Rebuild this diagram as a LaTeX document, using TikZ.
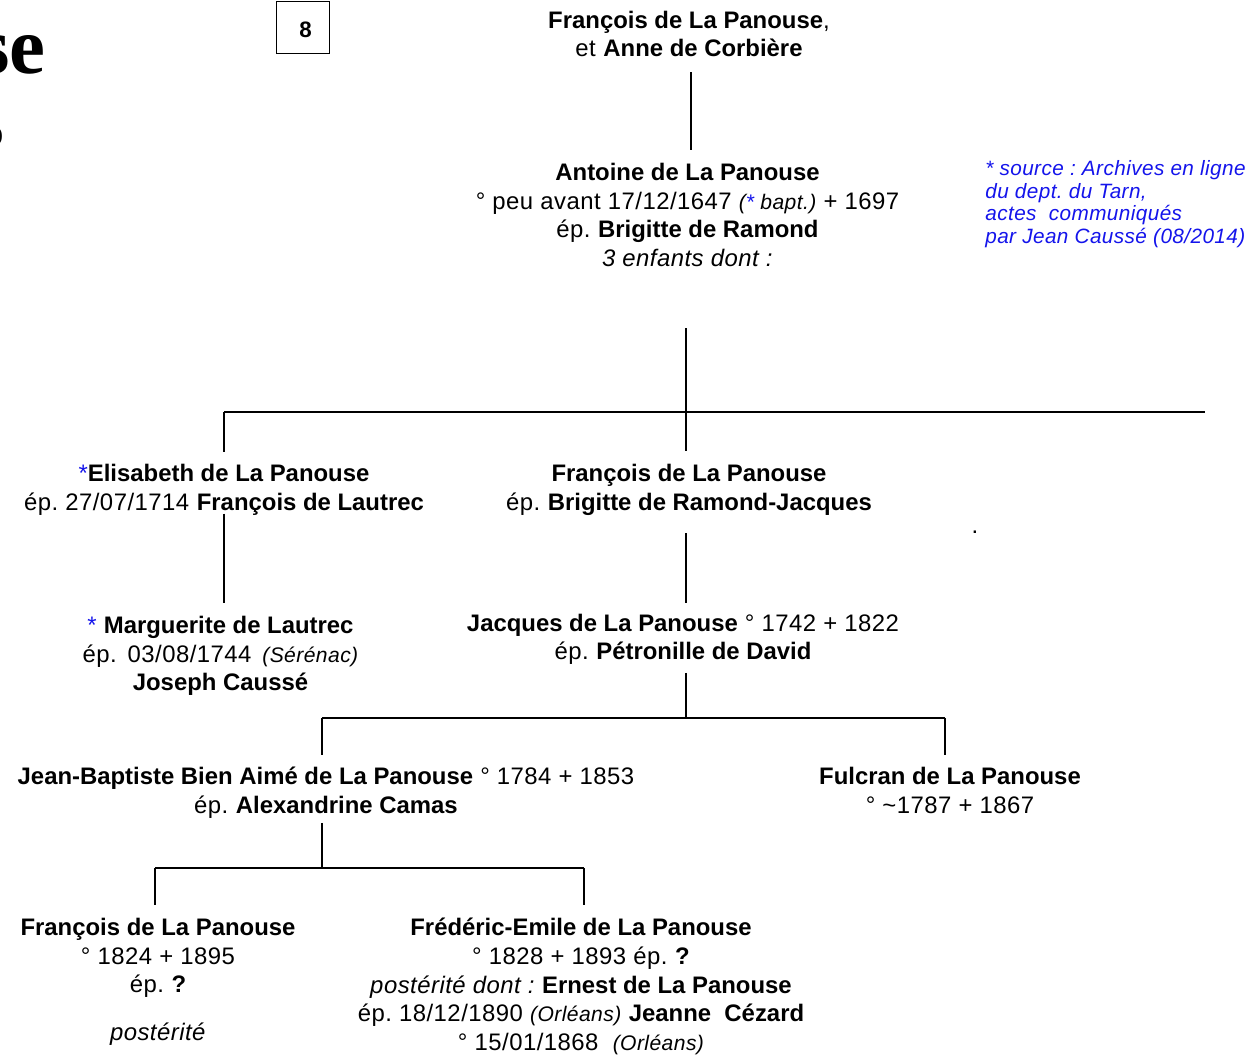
\documentclass[tikz,border=0pt]{standalone}
\usepackage{fontspec}
\setmainfont{Liberation Sans}[UprightFeatures={LetterSpace=2}, ItalicFeatures={LetterSpace=2}]
\newfontfamily\titleserif{Liberation Serif}
\usepackage{xcolor}
\usepackage{tikz}
\definecolor{figline}{RGB}{0,0,0}
\definecolor{figblue}{RGB}{20,20,235}
\newcommand\famtxt{\fontsize{13.6}{16.3}\selectfont\frenchspacing}
\newcommand\notetxt{\fontsize{11.8}{12.9}\selectfont\itshape\frenchspacing}
\newcommand\placetxt{\fontsize{12}{13}\selectfont\itshape}
\newcommand\bstar{\textcolor{figblue}{*}}
\tikzset{
  person/.style ={align=center, inner sep=0pt, font=\famtxt},
  lnk/.style    ={draw=figline, line width=1.4pt, line cap=butt},
  srcnote/.style={align=left, inner sep=0pt, text=figblue, font=\notetxt},
  pagebox/.style={draw=figline, line width=0.6pt, inner sep=0pt,
                  minimum width=30.7pt, text height=20.5pt, text depth=9.1pt,
                  font=\fontsize{12.7}{14}\selectfont\bfseries},
}

\begin{document}
\begin{tikzpicture}[x=0.02cm,y=-0.02cm]
  \useasboundingbox (0,0) rectangle (1249,1057);
  % clipped title at the left edge
  \node[anchor=base east, inner sep=0pt, font=\titleserif\fontsize{46}{50}\selectfont\bfseries] (ttl) at (46,74) {se};
  \node[anchor=base east, inner sep=0pt, font=\titleserif\fontsize{22}{24}\selectfont\bfseries] (ttl2) at (4,146) {o};
  \node[pagebox, anchor=north] (pnum) at (303,1) {\hspace{2.8pt}8};

  % generations
  \node[person] (fcorb) at (689,34) {\textbf{François de La Panouse},\\ et \textbf{Anne de Corbière}};
  \node[person] (antoine) at (687.5,215) {\textbf{Antoine de La Panouse}\\
    ° peu avant 17/12/1647 {\placetxt (\textcolor{figblue}{*} bapt.)} + 1697\\
    ép. \textbf{Brigitte de Ramond}\\ \textit{3 enfants dont :}};
  \node[srcnote, anchor=north west] (src) at (985,160) {* source : Archives en ligne\\
    du dept. du Tarn,\\ actes\ \ communiqués\\ par Jean Caussé (08/2014)};

  \node[person] (elisa) at (224,490) {\bstar\textbf{Elisabeth de La Panouse}\\
    ép. 27/07/1714 \textbf{François de Lautrec}};
  \node[person] (fmid) at (689,490) {\textbf{François de La Panouse}\\
    ép. \textbf{Brigitte de Ramond-Jacques}};
  \node[inner sep=0pt, font=\famtxt] (dotmk) at (975,532) {.};

  \node[person] (margot) at (220.5,656) {\bstar\ \textbf{Marguerite de Lautrec}\\
    ép.\hspace{0.45em}03/08/1744\hspace{0.45em}{\placetxt (Sérénac)}\\ \textbf{Joseph Caussé}};
  \node[person] (jacques) at (683,639.5) {\textbf{Jacques de La Panouse} ° 1742 + 1822\\
    ép. \textbf{Pétronille de David}};

  \node[person] (jbapt) at (326,792.5) {\textbf{Jean-Baptiste Bien Aimé de La Panouse} ° 1784 + 1853\\
    ép. \textbf{Alexandrine Camas}};
  \node[person] (fulcran) at (950,790.5) {\textbf{Fulcran de La Panouse}\\
    ° \textasciitilde1787 + 1867};

  \node[person, anchor=north] (fbot) at (158,918) {\textbf{François de La Panouse}\\
    ° 1824 + 1895\\ ép. \textbf{?}\\[11pt] \textit{postérité}};
  \node[person, anchor=north] (fredem) at (581,918) {\textbf{Frédéric-Emile de La Panouse}\\
    ° 1828 + 1893 ép. \textbf{?}\\
    \textit{postérité dont :} \textbf{Ernest de La Panouse}\\
    ép. 18/12/1890 {\placetxt (Orléans)} \textbf{Jeanne\ \ Cézard}\\
    ° 15/01/1868\ \ {\placetxt (Orléans)}};

  % sibling bars
  \coordinate (b1w) at (224,412);
  \coordinate (b1m) at (686,412);
  \coordinate (b1e) at (1205,412);
  \coordinate (b2w) at (322,718);
  \coordinate (b2m) at (686,718);
  \coordinate (b2e) at (945,718);
  \coordinate (b3w) at (155,868);
  \coordinate (b3m) at (322,868);
  \coordinate (b3e) at (584,868);

  \draw[lnk, shorten <=8.5pt, shorten >=7.4pt] (fcorb.south -| 691,0) -- (antoine.north -| 691,0);
  \draw[lnk, shorten <=34.7pt, shorten >=7.5pt] (b1m |- antoine.south) -- (b1m |- fmid.north);
  \draw[lnk] (b1w) -- (b1e);
  \draw[lnk, shorten >=6.8pt] (b1w) -- (b1w |- elisa.north);
  \draw[lnk, shorten <=-1.2pt, shorten >=7.4pt] (b1w |- elisa.south) -- (b1w |- margot.north);
  \draw[lnk, shorten <=10pt, shorten >=6.3pt] (b1m |- fmid.south) -- (b1m |- jacques.north);
  \draw[lnk, shorten <=4.3pt] (b2m |- jacques.south) -- (b2m);
  \draw[lnk] (b2w) -- (b2e);
  \draw[lnk, shorten >=6.8pt] (b2w) -- (b2w |- jbapt.north);
  \draw[lnk, shorten >=6.8pt] (b2e) -- (b2e |- fulcran.north);
  \draw[lnk, shorten <=2.6pt] (b3m |- jbapt.south) -- (b3m);
  \draw[lnk] (b3w) -- (b3e);
  \draw[lnk, shorten >=7.4pt] (b3w) -- (b3w |- fbot.north);
  \draw[lnk, shorten >=7.4pt] (b3e) -- (b3e |- fredem.north);
\end{tikzpicture}
\end{document}
